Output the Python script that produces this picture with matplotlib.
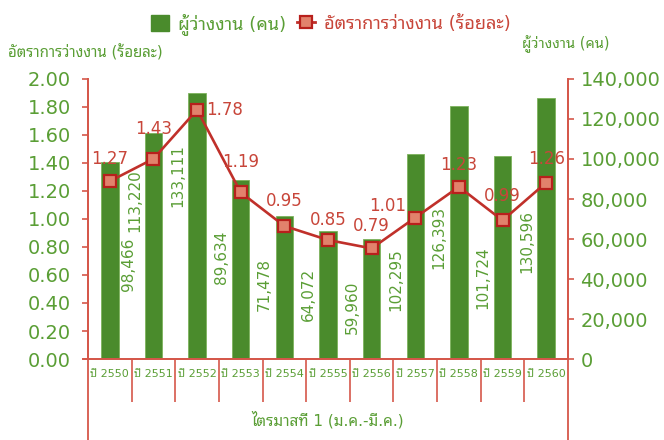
import matplotlib
matplotlib.use("Agg")
import matplotlib.pyplot as plt
from matplotlib.lines import Line2D
from matplotlib.patches import Patch
from matplotlib.ticker import FuncFormatter, FixedLocator
import numpy as np

plt.rcParams['font.family'] = ['DejaVu Sans', 'Noto Sans Thai Looped']

# ---- data ----
years = ["ปี 2550", "ปี 2551", "ปี 2552", "ปี 2553", "ปี 2554", "ปี 2555",
         "ปี 2556", "ปี 2557", "ปี 2558", "ปี 2559", "ปี 2560"]
unemployed = [98466, 113220, 133111, 89634, 71478, 64072,
              59960, 102295, 126393, 101724, 130596]
rate = [1.27, 1.43, 1.78, 1.19, 0.95, 0.85, 0.79, 1.01, 1.23, 0.99, 1.26]

bar_label = "ผู้ว่างงาน (คน)"
line_label = "อัตราการว่างงาน (ร้อยละ)"
xlabel = "ไตรมาสที่ 1 (ม.ค.-มี.ค.)"

# label placement (style, not data)
bar_label_frac = [0.48, 0.70, 0.69, 0.57, 0.52, 0.50, 0.43, 0.39, 0.48, 0.40, 0.45]
bar_label_dx = [0.43, -0.43, -0.45, -0.45, -0.45, -0.45, -0.45, -0.45, -0.45, -0.45, -0.45]
rate_label_offsets = [(0, 22), (0, 30), (27, 0), (0, 30), (0, 25), (0, 20),
                      (0, 22), (-28, 12), (0, 22), (0, 24), (0, 24)]

GREEN_BAR = '#4A8B2C'
GREEN_TXT = '#5A9E35'
RED_AX = '#D5574A'
RED_LINE = '#C0302A'
RED_TXT = '#C8463A'
MARK_FILL = '#E2826C'

W, H = 664, 440
fig = plt.figure(figsize=(W / 100, H / 100), dpi=100)
L, R, B, T = 88, 568, 359, 79
ax = fig.add_axes([L / W, 1 - B / H, (R - L) / W, (B - T) / H])
ax2 = ax.twinx()

x = np.arange(len(years))
ax.bar(x, unemployed, width=0.40, color=GREEN_BAR, edgecolor='#7DB35C', linewidth=0.6, zorder=2)
ax.set_xlim(-0.5, len(years) - 0.5)
ax.set_ylim(0, 140000)
ax.yaxis.tick_right()
ax.set_yticks(np.arange(0, 140001, 20000))
ax.yaxis.set_major_formatter(FuncFormatter(lambda v, p: f"{int(v):,}"))
ax.tick_params(axis='y', colors=RED_AX, labelcolor=GREEN_TXT, labelsize=14,
               length=4, width=1.2, direction='out', pad=5)

for xi, v, fr, dx in zip(x, unemployed, bar_label_frac, bar_label_dx):
    ax.text(xi + dx, v * fr, f"{v:,}", rotation=90, ha='center', va='center',
            color=GREEN_TXT, fontsize=11, zorder=3)

ax2.plot(x, rate, color=RED_LINE, lw=1.9, marker='s', markersize=8.5,
         markerfacecolor=MARK_FILL, markeredgecolor='#B8201C', markeredgewidth=1.6, zorder=4)
ax2.set_ylim(0, 2.0)
ax2.yaxis.tick_left()
ax2.set_yticks(np.arange(0, 2.001, 0.2))
ax2.yaxis.set_major_formatter(FuncFormatter(lambda v, p: f"{v:.2f}"))
ax2.tick_params(axis='y', colors=RED_AX, labelcolor=GREEN_TXT, labelsize=14,
                length=4.5, width=1.2, direction='out', pad=8)
for xi, v, off in zip(x, rate, rate_label_offsets):
    ax2.annotate(f"{v:.2f}", (xi, v), xytext=off, textcoords='offset pixels',
                 ha='center', va='center', color=RED_TXT, fontsize=12, zorder=5)

# x axis: separators as long ticks, labels as minor ticks
ax.xaxis.set_major_locator(FixedLocator(np.arange(0.5, len(years) - 1, 1.0)))
ax.xaxis.set_major_formatter(FuncFormatter(lambda v, p: ""))
ax.xaxis.set_minor_locator(FixedLocator(x))
ax.set_xticklabels(years, minor=True)
ax.tick_params(axis='x', which='major', colors=RED_AX, length=31, width=1.2, direction='out')
ax.tick_params(axis='x', which='minor', length=0, labelsize=8, labelcolor=GREEN_TXT, pad=7)
ax2.tick_params(axis='x', which='both', length=0)

for a in (ax, ax2):
    a.spines['top'].set_visible(False)
    for s in ('left', 'right', 'bottom'):
        a.spines[s].set_color(RED_AX)
        a.spines[s].set_linewidth(1.3)

# extended outer lines to the bottom of the figure
for px in (L, R):
    fig.add_artist(Line2D([px / W, px / W], [0, 1 - B / H], color=RED_AX, lw=1.3))
fig.add_artist(Line2D([(L - 5) / W, L / W], [1 - B / H, 1 - B / H], color=RED_AX, lw=1.3))

fig.text((L + R) / 2 / W, 1 - 420 / H, xlabel, ha='center', va='center',
         color=GREEN_TXT, fontsize=11)
fig.text(8 / W, 1 - 52 / H, line_label, ha='left', va='center', color=GREEN_TXT, fontsize=10.8)
fig.text(566 / W, 1 - 44 / H, bar_label, ha='center', va='center', color=GREEN_TXT, fontsize=10.5)

handles = [Patch(facecolor=GREEN_BAR, edgecolor=GREEN_BAR),
           Line2D([0], [0], color=RED_LINE, lw=2, marker='s', markersize=9,
                  markerfacecolor=MARK_FILL, markeredgecolor='#B8201C', markeredgewidth=1.6)]
leg = fig.legend(handles, [bar_label, line_label], loc='center',
                 bbox_to_anchor=(331 / W, 1 - 24 / H), ncol=2, frameon=False,
                 fontsize=13, handlelength=1.0, handleheight=1.0,
                 handletextpad=0.5, columnspacing=0.6)
for t, c in zip(leg.get_texts(), [GREEN_TXT, RED_TXT]):
    t.set_color(c)

fig.savefig("out.png", dpi=100)
